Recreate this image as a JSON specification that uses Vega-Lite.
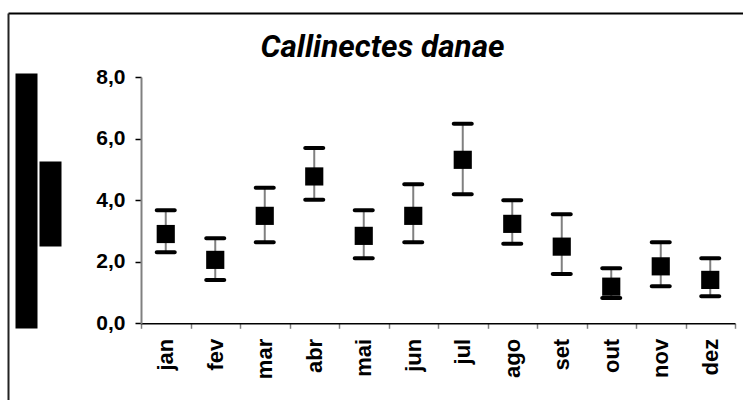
{
  "$schema": "https://vega.github.io/schema/vega-lite/v6.json",
  "width": 735,
  "height": 387,
  "autosize": {"type": "none"},
  "padding": {"left": 8, "top": 13, "right": 0, "bottom": 0},
  "background": "white",
  "config": {"view": {"stroke": null}},
  "resolve": {"scale": {"x": "independent", "y": "independent"}, "axis": {"x": "independent", "y": "independent"}},
  "layer": [
    {
      "data": {"values": [{"f": 0}, {"f": 1}]},
      "mark": {"type": "point", "opacity": 0},
      "encoding": {
        "x": {"field": "f", "type": "quantitative", "scale": {"domain": [0, 1], "nice": false, "zero": false},
          "axis": {"orient": "top", "domain": true, "domainColor": "black", "domainWidth": 2, "ticks": false, "labels": false, "grid": false,
            "title": "Callinectes danae",
            "titleFont": "Roboto", "titleFontSize": 31.5, "titleFontWeight": "bold", "titleFontStyle": "italic", "titleColor": "black",
            "titleAlign": "center", "titleBaseline": "alphabetic", "titleAngle": 0, "titleX": 374, "titleY": 43}},
        "y": {"field": "f", "type": "quantitative", "scale": {"domain": [0, 1], "nice": false, "zero": false},
          "axis": {"orient": "left", "domain": true, "domainColor": "#222222", "domainWidth": 2, "ticks": false, "labels": false, "grid": false, "title": null}}
      }
    },
    {
      "data": {"values": [{"g": 0}, {"g": 1}]},
      "mark": {"type": "point", "opacity": 0},
      "encoding": {
        "y": {"field": "g", "type": "quantitative", "scale": {"domain": [0, 1], "range": [315, 60], "nice": false, "zero": false},
          "axis": {"orient": "left", "offset": -18, "domain": true, "domainColor": "black", "domainWidth": 22, "domainCap": "butt", "ticks": false, "labels": false, "grid": false, "title": null}}
      }
    },
    {
      "data": {"values": [{"h": 0}, {"h": 1}]},
      "mark": {"type": "point", "opacity": 0},
      "encoding": {
        "y": {"field": "h", "type": "quantitative", "scale": {"domain": [0, 1], "range": [233, 148], "nice": false, "zero": false},
          "axis": {"orient": "left", "offset": -42, "domain": true, "domainColor": "black", "domainWidth": 22, "domainCap": "butt", "ticks": false, "labels": false, "grid": false, "title": null}}
      }
    },
    {
      "data": {"values": [
        {"mes": "jan", "media": 2.90, "inf": 2.31, "sup": 3.67},
        {"mes": "fev", "media": 2.06, "inf": 1.41, "sup": 2.76},
        {"mes": "mar", "media": 3.49, "inf": 2.63, "sup": 4.40},
        {"mes": "abr", "media": 4.77, "inf": 4.01, "sup": 5.69},
        {"mes": "mai", "media": 2.84, "inf": 2.11, "sup": 3.67},
        {"mes": "jun", "media": 3.49, "inf": 2.63, "sup": 4.52},
        {"mes": "jul", "media": 5.31, "inf": 4.19, "sup": 6.48},
        {"mes": "ago", "media": 3.23, "inf": 2.58, "sup": 4.00},
        {"mes": "set", "media": 2.49, "inf": 1.60, "sup": 3.54},
        {"mes": "out", "media": 1.19, "inf": 0.82, "sup": 1.79},
        {"mes": "nov", "media": 1.85, "inf": 1.20, "sup": 2.63},
        {"mes": "dez", "media": 1.41, "inf": 0.88, "sup": 2.11}
      ]},
      "encoding": {
        "x": {
          "field": "mes", "type": "nominal", "sort": null,
          "scale": {"type": "band", "range": [133, 727], "paddingInner": 0, "paddingOuter": 0},
          "axis": {
            "orient": "bottom", "offset": -76.7, "title": null,
            "labelAngle": -90, "labelFont": "Liberation Sans", "labelFontSize": 22, "labelFontWeight": "bold", "labelColor": "black",
            "labelPadding": 10, "tickBand": "extent", "tickSize": 5, "tickColor": "#808080", "tickWidth": 1.5,
            "domainColor": "black", "domainWidth": 1.5, "grid": false
          }
        }
      },
      "layer": [
        {
          "mark": {"type": "rule", "color": "#808080", "strokeWidth": 2},
          "encoding": {
            "y": {"field": "inf", "type": "quantitative",
              "scale": {"domain": [0, 8], "range": [310.3, 64], "nice": false, "zero": true},
              "axis": {
                "orient": "left", "offset": -133, "values": [0, 2, 4, 6, 8],
                "labelExpr": "replace(format(datum.value, '.1f'), '.', ',')",
                "labelFont": "Liberation Sans", "labelFontSize": 21, "labelFontWeight": "bold", "labelColor": "black", "labelPadding": 10,
                "tickSize": 6, "tickColor": "black", "tickWidth": 1.5, "domainColor": "#808080", "domainWidth": 2, "grid": false,
                "title": null
              }
            },
            "y2": {"field": "sup"}
          }
        },
        {
          "mark": {"type": "tick", "color": "black", "size": 22, "thickness": 4, "cornerRadius": 2, "opacity": 1},
          "encoding": {"y": {"field": "inf", "type": "quantitative"}}
        },
        {
          "mark": {"type": "tick", "color": "black", "size": 22, "thickness": 4, "cornerRadius": 2, "opacity": 1},
          "encoding": {"y": {"field": "sup", "type": "quantitative"}}
        },
        {
          "mark": {"type": "square", "color": "black", "filled": true, "size": 330, "opacity": 1},
          "encoding": {"y": {"field": "media", "type": "quantitative"}}
        }
      ]
    }
  ]
}
